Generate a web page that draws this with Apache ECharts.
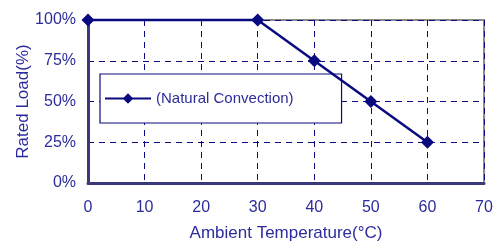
<!DOCTYPE html>
<html>
<head>
<meta charset="utf-8">
<script src="https://cdn.jsdelivr.net/npm/echarts@6/dist/echarts.min.js"></script>
<style>
html,body{margin:0;padding:0;background:#fff;}
#chart{width:495px;height:244px;}
</style>
</head>
<body>
<div id="chart"></div>
<script>
// derating curve
var temps = [0, 30, 40, 50, 60];
var loads = [100, 100, 75, 50, 25];
var seriesName = '(Natural Convection)';

var navy = '#0a0a80';
var txt = '#2c2c9c';
var font = 'Liberation Sans';

var option = {
  animation: false,
  grid: {
    left: 88, right: 11, top: 20, bottom: 61,
    outerBoundsMode: 'none',
    show: true, borderColor: '#8a8a8a', borderWidth: 2
  },
  legend: {
    left: 100, top: 74,
    padding: [17, 48, 17, 4],
    backgroundColor: '#fff', borderColor: navy, borderWidth: 1.2, borderRadius: 0,
    itemWidth: 46, itemHeight: 13, itemGap: 4,
    textStyle: {color: txt, fontSize: 15, fontFamily: font},
    data: [seriesName]
  },
  xAxis: {
    type: 'value', min: 0, max: 70, interval: 10,
    name: 'Ambient Temperature(\u00B0C)', nameLocation: 'middle', nameGap: 42,
    nameTextStyle: {color: txt, fontSize: 17, fontFamily: font},
    axisLine: {show: true, lineStyle: {color: '#3a3a7a', width: 3}},
    axisTick: {show: false},
    axisLabel: {color: txt, fontSize: 16, margin: 17, fontFamily: font},
    splitLine: {show: true, lineStyle: {color: navy, type: [6, 5], width: 1}}
  },
  yAxis: {
    type: 'value', min: 0, max: 100, interval: 25,
    name: 'Rated Load(%)', nameLocation: 'middle', nameGap: 56,
    nameMoveOverlap: false,
    nameTextStyle: {color: txt, fontSize: 17, fontFamily: font},
    axisLine: {show: true, lineStyle: {color: '#3a3a7a', width: 3}},
    axisTick: {show: false},
    axisLabel: {color: txt, fontSize: 16, margin: 12, formatter: '{value}%', fontFamily: font},
    splitLine: {show: true, lineStyle: {color: navy, type: [6, 5], width: 1}}
  },
  series: [{
    name: seriesName,
    type: 'line',
    data: temps.map(function (t, i) { return [t, loads[i]]; }),
    symbol: 'diamond', symbolSize: 13,
    clip: false, z: 5,
    lineStyle: {color: navy, width: 2.5},
    itemStyle: {color: navy}
  }]
};

var myChart = echarts.init(document.getElementById('chart'));
myChart.setOption(option);
</script>
</body>
</html>
